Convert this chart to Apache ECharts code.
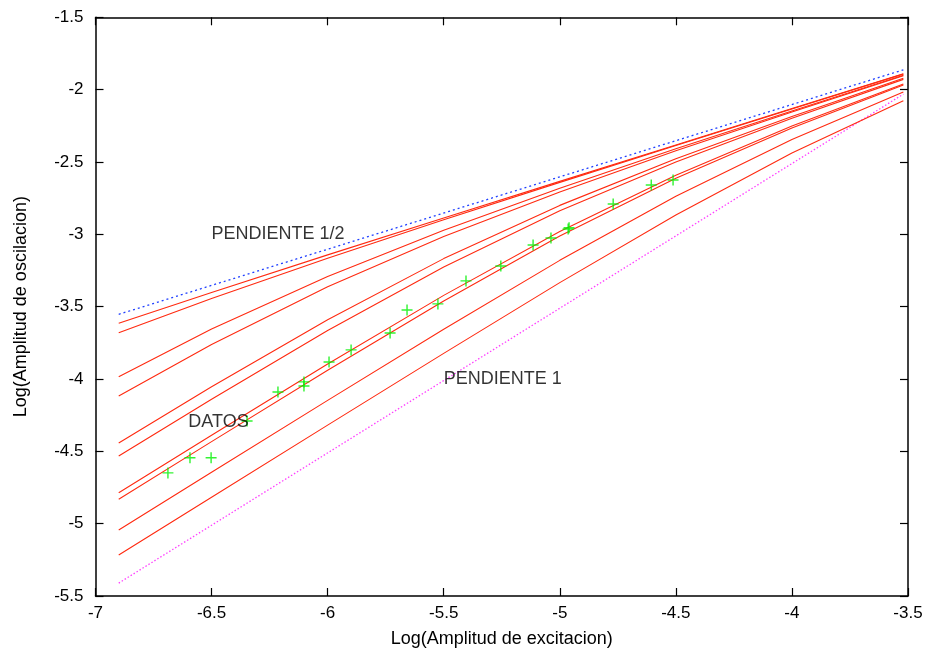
<!DOCTYPE html>
<html><head><meta charset="utf-8">
<script src="https://cdn.jsdelivr.net/npm/echarts/dist/echarts.min.js"></script>
<style>html,body{margin:0;padding:0;background:#fff}#c{width:927px;height:657px}</style>
</head><body><div id="c"></div>
<script>
// Sample abscissas of the theoretical curves (Log excitation)
const curveX = [-6.9, -6.5, -6.0, -5.5, -5.0, -4.5, -4.0, -3.52];
// Ten theoretical response curves (Log oscillation amplitude), top to bottom
const curve1  = [-3.615, -3.402, -3.142, -2.887, -2.634, -2.382, -2.131, -1.891];
const curve2  = [-3.680, -3.443, -3.166, -2.900, -2.641, -2.386, -2.134, -1.892];
const curve3  = [-3.984, -3.655, -3.291, -2.972, -2.682, -2.409, -2.147, -1.900];
const curve4  = [-4.117, -3.761, -3.362, -3.015, -2.707, -2.423, -2.154, -1.904];
const curve5  = [-4.442, -4.054, -3.590, -3.168, -2.800, -2.477, -2.185, -1.922];
const curve6  = [-4.532, -4.140, -3.665, -3.226, -2.837, -2.500, -2.198, -1.929];
const curve7  = [-4.786, -4.389, -3.897, -3.422, -2.981, -2.591, -2.252, -1.961];
const curve8  = [-4.831, -4.433, -3.940, -3.461, -3.012, -2.612, -2.265, -1.968];
const curve9  = [-5.044, -4.645, -4.148, -3.656, -3.180, -2.737, -2.345, -2.017];
const curve10 = [-5.217, -4.817, -4.319, -3.823, -3.334, -2.866, -2.438, -2.076];
// Reference lines: slope 1/2 and slope 1 (end points)
const slopeHalfX = [-6.9, -3.52];
const slopeHalfY = [-3.553, -1.863];
const slopeOneX  = [-6.9, -3.52];
const slopeOneY  = [-5.411, -2.031];
// Measured data ("DATOS")
const dataX = [-6.688, -6.593, -6.502, -6.347, -6.214, -6.102, -6.102, -5.994, -5.899, -5.731, -5.658, -5.525, -5.404, -5.254, -5.115, -5.038, -4.964, -4.960, -4.770, -4.606, -4.512];
const dataY = [-4.649, -4.545, -4.545, -4.290, -4.090, -4.020, -4.048, -3.882, -3.799, -3.682, -3.523, -3.481, -3.322, -3.219, -3.074, -3.025, -2.963, -2.955, -2.790, -2.659, -2.624];
// Text labels
const labelText = ['PENDIENTE 1/2', 'PENDIENTE 1', 'DATOS'];
const labelX = [-6.5, -5.5, -6.6];
const labelY = [-3.0, -4.0, -4.3];
// Axis ranges
const xMin = -7, xMax = -3.5, xStep = 0.5;
const yMin = -5.5, yMax = -1.5, yStep = 0.5;

const FONT = '"Liberation Sans", Arial, Helvetica, sans-serif';
const curves = [curve1, curve2, curve3, curve4, curve5, curve6, curve7, curve8, curve9, curve10];
const zip = (xs, ys) => xs.map((x, i) => [x, ys[i]]);

const series = [];
curves.forEach((c, i) => {
  series.push({
    type: 'line', name: 'curve' + (i + 1), data: zip(curveX, c),
    showSymbol: false, silent: true,
    lineStyle: { color: '#ff2a10', width: 1.1 }, z: 3
  });
});
series.push({
  type: 'line', name: 'PENDIENTE 1/2', data: zip(slopeHalfX, slopeHalfY),
  showSymbol: false, lineStyle: { color: '#2040ff', width: 1.3, type: [2, 3] }, z: 2
});
series.push({
  type: 'line', name: 'PENDIENTE 1', data: zip(slopeOneX, slopeOneY),
  showSymbol: false, lineStyle: { color: '#ff40ff', width: 1.3, type: [1.5, 2] }, z: 2
});
series.push({
  type: 'scatter', name: 'DATOS', data: zip(dataX, dataY),
  symbol: 'path://M-5,-0.65H5V0.65H-5Z M-0.65,-5H0.65V5H-0.65Z',
  symbolSize: 11, itemStyle: { color: '#00f000' }, z: 5
});
series.push({
  type: 'scatter', name: 'labels',
  data: labelText.map((t, i) => ({ value: [labelX[i], labelY[i]], name: t })),
  symbolSize: 0, silent: true, z: 6,
  label: {
    show: true, position: 'right', distance: 0,
    formatter: p => p.name, color: '#000', fontSize: 18, fontFamily: FONT
  }
});

const axisCommon = {
  type: 'value', splitLine: { show: false },
  axisLine: { show: true, onZero: false, lineStyle: { color: '#000', width: 1.5 } },
  axisTick: { show: true, inside: true, length: 8, lineStyle: { color: '#000', width: 1.2 } }
};

const chart = echarts.init(document.getElementById('c'), null, { renderer: 'canvas' });
chart.setOption({
  animation: false,
  backgroundColor: '#fff',
  grid: { left: 95.5, right: 19, top: 17.3, bottom: 61, outerBoundsMode: 'none' },
  xAxis: [
    Object.assign({}, axisCommon, {
      position: 'bottom', min: xMin, max: xMax, interval: xStep,
      axisLabel: { color: '#000', fontSize: 17, fontFamily: FONT, margin: 9 },
      name: 'Log(Amplitud de excitacion)', nameLocation: 'middle', nameGap: 34,
      nameTextStyle: { color: '#000', fontSize: 18, fontFamily: FONT }
    }),
    Object.assign({}, axisCommon, {
      position: 'top', min: xMin, max: xMax, interval: xStep, axisLabel: { show: false }
    })
  ],
  yAxis: [
    Object.assign({}, axisCommon, {
      position: 'left', min: yMin, max: yMax, interval: yStep,
      axisLabel: { color: '#000', fontSize: 17, fontFamily: FONT, margin: 12 },
      name: 'Log(Amplitud de oscilacion)', nameLocation: 'middle', nameGap: 65, nameRotate: 90,
      nameTextStyle: { color: '#000', fontSize: 18, fontFamily: FONT }
    }),
    Object.assign({}, axisCommon, {
      position: 'right', min: yMin, max: yMax, interval: yStep, axisLabel: { show: false }
    })
  ],
  series: series
});
</script>
</body></html>
